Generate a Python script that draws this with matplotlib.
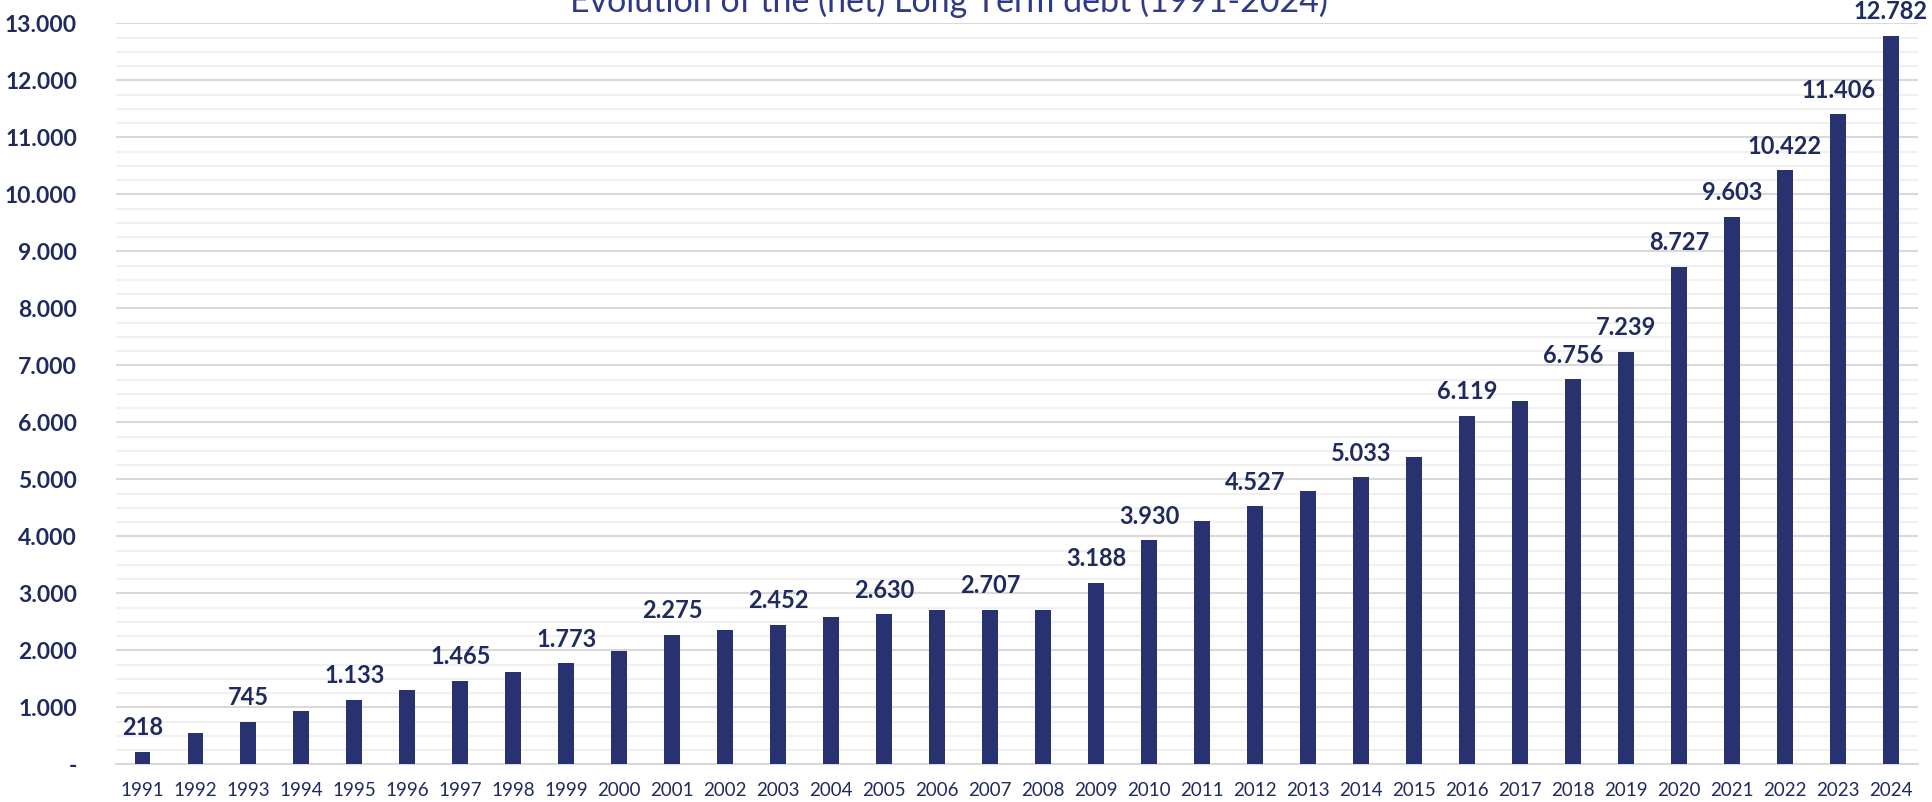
import matplotlib.pyplot as plt
from matplotlib.ticker import MultipleLocator, FuncFormatter

# donnees (millions)
years = list(range(1991, 2025))
debt = [218, 555, 745, 940, 1133, 1295, 1465, 1625, 1773, 1980,
        2275, 2350, 2452, 2590, 2630, 2700, 2707, 2705, 3188, 3930,
        4270, 4527, 4800, 5033, 5395, 6119, 6380, 6756, 7239, 8727,
        9603, 10422, 11406, 12782]
# annees qui portent une etiquette
labelled = [1991, 1993, 1995, 1997, 1999, 2001, 2003, 2005, 2007, 2009,
            2010, 2012, 2014, 2016, 2018, 2019, 2020, 2021, 2022, 2023, 2024]

navy = '#283270'
dark = '#1f2b5e'

plt.rcParams['font.family'] = ['Lato', 'DejaVu Sans']

fig = plt.figure(figsize=(19.33, 8.02), dpi=100)
ax = fig.add_axes([0.060, 0.047, 0.932, 0.924])

x = range(len(years))
ax.bar(x, debt, width=0.30, color=navy, zorder=3)

for i, y in enumerate(years):
    if y in labelled:
        ax.annotate(f'{debt[i]:,}'.replace(',', '.'), (i, debt[i]),
                    xytext=(0, 9), textcoords='offset points',
                    ha='center', va='bottom', fontsize=17,
                    fontweight='bold', color=dark, clip_on=False)

ax.set_xlim(-0.5, len(years) - 0.5)
ax.set_ylim(0, 13000)
ax.yaxis.set_major_locator(MultipleLocator(1000))
ax.yaxis.set_minor_locator(MultipleLocator(250))
ax.yaxis.set_major_formatter(FuncFormatter(
    lambda v, p: '-' if v == 0 else f'{int(v):,}'.replace(',', '.')))
ax.grid(axis='y', which='major', color='#d9d9d9', linewidth=1.5, zorder=0)
ax.grid(axis='y', which='minor', color='#f0f0f0', linewidth=1.5, zorder=0)

ax.set_xticks(list(x))
ax.set_xticklabels([str(y) for y in years], fontsize=13.5, color=dark)
for lab in ax.get_yticklabels():
    lab.set_fontsize(16.5)
    lab.set_fontweight('bold')
    lab.set_color(dark)
ax.tick_params(axis='both', which='both', length=0)
ax.tick_params(axis='x', pad=13)
ax.tick_params(axis='y', pad=28)

for s in ['top', 'right', 'left']:
    ax.spines[s].set_visible(False)
ax.spines['bottom'].set_color('#d9d9d9')
ax.spines['bottom'].set_linewidth(1.5)

fig.text(0.491, 0.985, 'Evolution of the (net) Long Term debt (1991-2024)',
         ha='center', va='baseline', fontsize=24.5, color='#2e3a87')

plt.savefig('out.png', dpi=100)
